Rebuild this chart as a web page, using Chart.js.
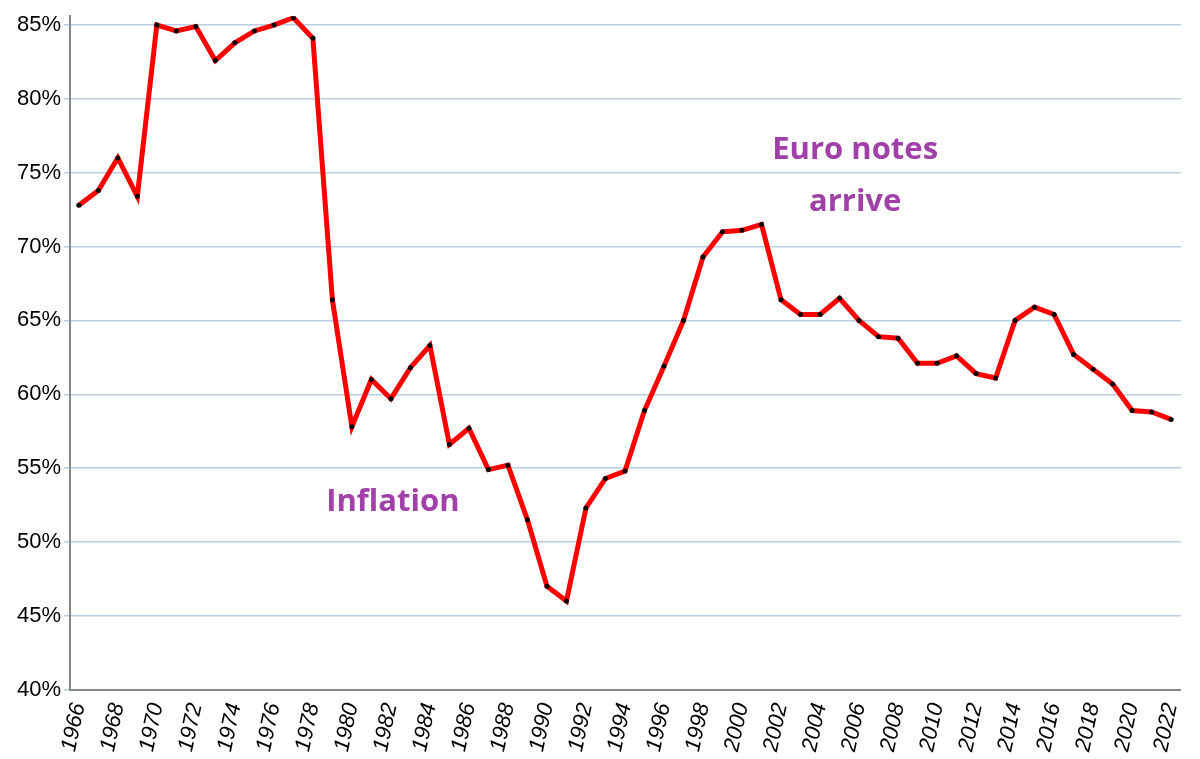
<!DOCTYPE html>
<html>
<head>
<meta charset="utf-8">
<script src="https://cdn.jsdelivr.net/npm/chart.js@4"></script>
<style>
  html, body { margin: 0; padding: 0; background: #fff; }
  #wrap { width: 1200px; height: 759px; }
</style>
</head>
<body>
<div id="wrap"><canvas id="myChart"></canvas></div>
<script>
const years = [];
for (let y = 1966; y <= 2022; y++) years.push(y);

const shares = [72.8, 73.8, 76.0, 73.4, 85.0, 84.6, 84.9, 82.6, 83.8, 84.6,
                85.0, 85.5, 84.1, 66.4, 57.8, 61.0, 59.7, 61.8, 63.3, 56.6,
                57.7, 54.9, 55.2, 51.5, 47.0, 46.0, 52.3, 54.3, 54.8, 58.9,
                61.9, 65.0, 69.3, 71.0, 71.1, 71.5, 66.4, 65.4, 65.4, 66.5,
                65.0, 63.9, 63.8, 62.1, 62.1, 62.6, 61.4, 61.1, 65.0, 65.9,
                65.4, 62.7, 61.7, 60.7, 58.9, 58.8, 58.3];

const yTicks = [40, 45, 50, 55, 60, 65, 70, 75, 80, 85];

const notes = [
    { x: 1982.1, y: 52.7, lines: ['Inflation'] },
    { x: 2005.8, y: 74.8, lines: ['Euro notes', 'arrive'] }
];

const notePlugin = {
    id: 'notes',
    afterDatasetsDraw(chart) {
        const c = chart.ctx;
        const xs = chart.scales.x, ys = chart.scales.y;
        c.save();
        c.font = 'bold 31px "Open Sans", sans-serif';
        c.textAlign = 'center';
        c.textBaseline = 'middle';
        notes.forEach(n => {
            const px = xs.getPixelForValue(n.x);
            const py = ys.getPixelForValue(n.y);
            const h = 52;
            const top = py - (n.lines.length - 1) * h / 2;
            n.lines.forEach((t, i) => {
                const w = c.measureText(t).width;
                c.fillStyle = '#fff';
                c.fillRect(px - w / 2 - 8, top + i * h - 20, w + 16, 40);
                c.fillStyle = '#a040a8';
                c.fillText(t, px, top + i * h);
            });
        });
        c.restore();
    }
};

new Chart(document.getElementById('myChart'), {
    type: 'line',
    data: {
        datasets: [{
            data: years.map((y, i) => ({ x: y, y: shares[i] })),
            borderColor: '#ff0000',
            borderWidth: 5,
            tension: 0,
            pointRadius: 2.5,
            pointBackgroundColor: '#000',
            pointBorderColor: '#000',
            pointBorderWidth: 0
        }]
    },
    options: {
        responsive: true,
        maintainAspectRatio: false,
        animation: false,
        layout: { padding: { top: 8, right: 4, left: 14, bottom: 2 } },
        plugins: { legend: { display: false }, tooltip: { enabled: false } },
        scales: {
            x: {
                type: 'linear',
                min: 1965.55,
                max: 2022.5,
                afterBuildTicks(axis) {
                    axis.ticks = years.filter(y => y % 2 === 0).map(v => ({ value: v }));
                },
                grid: { display: false },
                border: { color: '#888', width: 2 },
                ticks: {
                    maxRotation: 78, minRotation: 78,
                    color: '#000',
                    font: { size: 22, style: 'italic', family: 'Liberation Sans' },
                    callback: v => String(v)
                }
            },
            y: {
                min: 40, max: 85.6,
                afterBuildTicks(axis) {
                    axis.ticks = yTicks.map(v => ({ value: v }));
                },
                grid: { color: '#b9cde5', lineWidth: 1.5, tickLength: 6 },
                border: { color: '#888', width: 2 },
                ticks: {
                    color: '#000',
                    font: { size: 22, family: 'Liberation Sans' },
                    callback: v => v + '%'
                }
            }
        }
    },
    plugins: [notePlugin]
});
</script>
</body>
</html>
